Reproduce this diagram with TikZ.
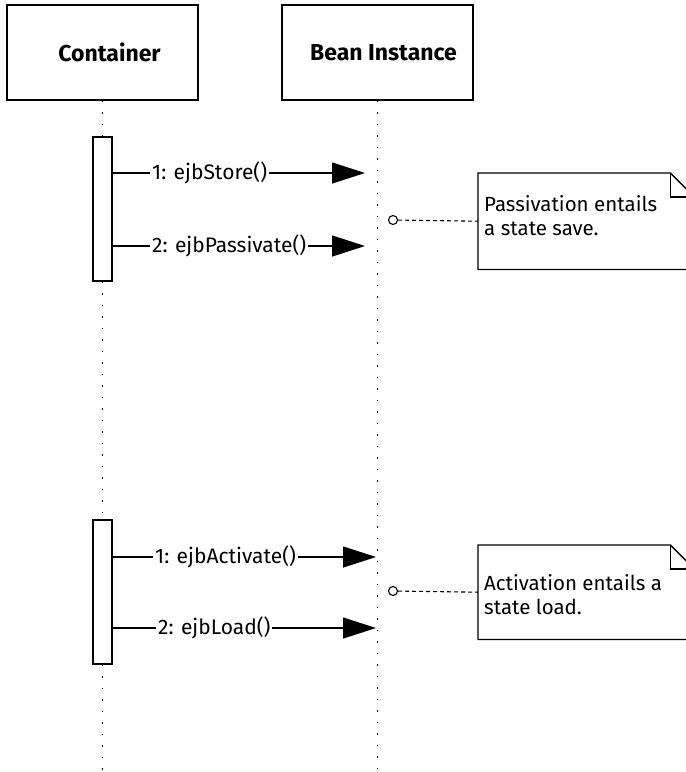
\documentclass[tikz,border=0pt]{standalone}
\usepackage{fontspec}
\setmainfont{Fira Sans}
\usetikzlibrary{arrows.meta}
\begin{document}
\begin{tikzpicture}[x=1pt,y=-1pt,
  objbox/.style={draw,line width=1.3pt,minimum width=191pt,minimum height=95pt,inner sep=0pt},
  objlabel/.style={font=\fontsize{23}{26}\selectfont\bfseries,inner sep=0pt},
  actbox/.style={draw,fill=white,line width=1.3pt,minimum width=19pt,inner sep=0pt},
  lifeline/.style={line width=1.7pt,dash pattern=on 1.8pt off 9.7pt},
  msg/.style={line width=1.2pt,-{Triangle[length=33pt,width=21pt]}},
  msglabel/.style={fill=white,inner sep=2pt,anchor=west,font=\fontsize{21}{24}\selectfont},
  notebox/.style={minimum width=216pt,inner sep=0pt,anchor=north west},
  notetext/.style={align=left,inner sep=0pt,anchor=north west,font=\fontsize{20.5}{24}\selectfont},
  pin/.style={circle,draw,line width=1.1pt,minimum size=9pt,inner sep=0pt,fill=white},
  link/.style={line width=1.1pt,dash pattern=on 4pt off 3pt}]
\clip (0,0) rectangle (686,772);
\fill[white] (0,0) rectangle (686,772);

% object headers
\node[objbox] (cont) at (102.5,52.5) {};
\node[objlabel] at ([xshift=7pt]cont.center) {Container};
\node[objbox] (bean) at (377.5,52.5) {};
\node[objlabel] at ([xshift=6pt]bean.center) {Bean Instance};

% activation bars on the container lifeline
\node[actbox,minimum height=144pt] (act1) at (102.5,209) {};
\node[actbox,minimum height=144pt] (act2) at (102.5,592) {};

% lifelines
\coordinate (cend) at (102.5,772);
\coordinate (bend) at (377.5,772);
\draw[lifeline] (cont.south) -- (act1.north);
\draw[lifeline] (act1.south) -- (act2.north);
\draw[lifeline] (act2.south) -- (cend);
\draw[lifeline] (bean.south) -- (bend);

% passivation messages
\coordinate (t1) at (365,173);
\coordinate (t2) at (365,246);
\draw[msg] (act1.east |- t1) -- (t1);
\node[msglabel] (m1) at (150,173) {1: ejbStore()};
\draw[msg] (act1.east |- t2) -- (t2);
\node[msglabel] (m2) at (150,246) {2: ejbPassivate()};

% activation messages
\coordinate (t3) at (376,557);
\coordinate (t4) at (376,628);
\draw[msg] (act2.east |- t3) -- (t3);
\node[msglabel] (m3) at (153,557) {1: ejbActivate()};
\draw[msg] (act2.east |- t4) -- (t4);
\node[msglabel] (m4) at (156,628) {2: ejbLoad()};

% note: passivation
\node[notebox,minimum height=96pt] (n1) at (478,173) {};
\draw[line width=1.3pt] (n1.north west) -- ([xshift=-24pt]n1.north east) -- ([yshift=-24pt]n1.north east) -- (n1.south east) -- (n1.south west) -- cycle;
\draw[line width=1.3pt] ([xshift=-24pt]n1.north east) -- ([xshift=-24pt,yshift=-24pt]n1.north east) -- ([yshift=-24pt]n1.north east);
\node[notetext] (n1t) at (484,195) {Passivation entails\\a state save.};
\node[pin] (c1) at (393,220) {};
\draw[link] (c1) -- (n1.west);

% note: activation
\node[notebox,minimum height=94pt] (n2) at (478,545) {};
\draw[line width=1.3pt] (n2.north west) -- ([xshift=-24pt]n2.north east) -- ([yshift=-24pt]n2.north east) -- (n2.south east) -- (n2.south west) -- cycle;
\draw[line width=1.3pt] ([xshift=-24pt]n2.north east) -- ([xshift=-24pt,yshift=-24pt]n2.north east) -- ([yshift=-24pt]n2.north east);
\node[notetext] (n2t) at (484,574) {Activation entails a\\state load.};
\node[pin] (c2) at (393,591) {};
\draw[link] (c2) -- (n2.west);
\end{tikzpicture}
\end{document}
